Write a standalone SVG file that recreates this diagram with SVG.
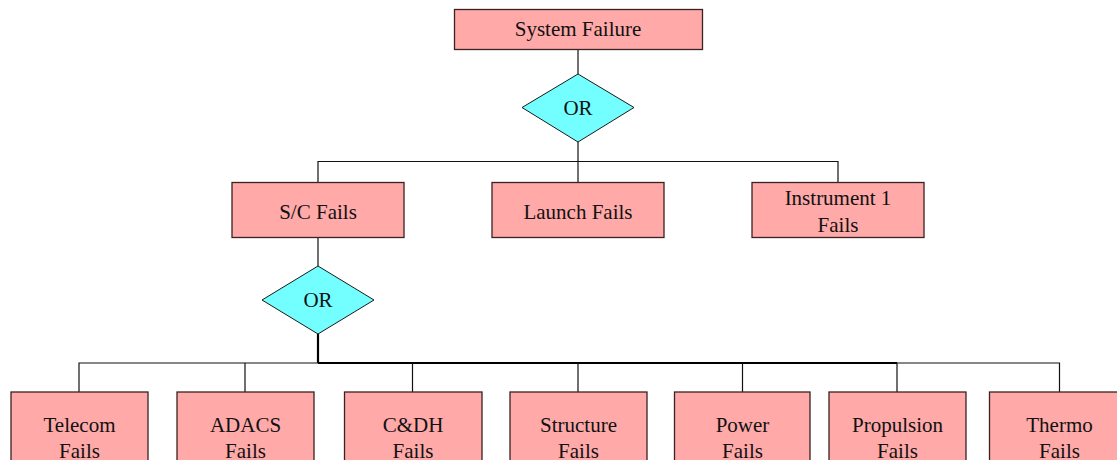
<svg xmlns="http://www.w3.org/2000/svg" width="1117" height="460" viewBox="0 0 1117 460">
<style>
.box{fill:#FFA9A9;stroke:#3a2222;stroke-width:1.3}
.gate{fill:#73FFFF;stroke:#1a1a1a;stroke-width:1}
.lbl{font-family:"Liberation Serif","Times New Roman",serif;font-size:21px;fill:#111;text-anchor:middle}
.c{fill:none;stroke:#111;stroke-width:1.2}
.ct{fill:none;stroke:#000;stroke-width:2.2}
</style>
<rect width="1117" height="460" fill="#fff"/>
<g id="connectors">
<path class="c" d="M578 49V74"/>
<path class="c" d="M578 142V182"/>
<path class="c" d="M318 182V161.5H838V182"/>
<path class="c" d="M318 237V266"/>
<path class="ct" d="M318 334V363"/>
<path class="c" d="M79 392V363H1059.5V392"/>
<path class="ct" d="M318 363H897"/>
<path class="c" d="M245 363V392M412.5 363V392M578 363V392M742.5 363V392M897 363V392"/>
</g>
<g id="system-failure"><rect class="box" x="454.5" y="9.5" width="248" height="40"/><text class="lbl" x="578" y="36">System Failure</text></g>
<g id="or-top"><polygon class="gate" points="578,74 634,107.5 578,142 522,107.5"/><text class="lbl" x="578" y="114.5">OR</text></g>
<g id="sc-fails"><rect class="box" x="232" y="182.5" width="172" height="55"/><text class="lbl" x="318" y="218.5">S/C Fails</text></g>
<g id="launch-fails"><rect class="box" x="492" y="182.5" width="172" height="55"/><text class="lbl" x="578" y="219">Launch Fails</text></g>
<g id="instrument-fails"><rect class="box" x="752" y="182.5" width="172" height="55"/><text class="lbl" x="838" y="205">Instrument 1</text><text class="lbl" x="838" y="231.5">Fails</text></g>
<g id="or-sc"><polygon class="gate" points="318,266 374,300 318,334 262,300"/><text class="lbl" x="318" y="307">OR</text></g>
<g id="telecom"><rect class="box" x="11" y="392" width="137" height="80"/><text class="lbl" x="79.5" y="431.5">Telecom</text><text class="lbl" x="79.5" y="457.5">Fails</text></g>
<g id="adacs"><rect class="box" x="177" y="392" width="137" height="80"/><text class="lbl" x="245.5" y="431.5">ADACS</text><text class="lbl" x="245.5" y="457.5">Fails</text></g>
<g id="cdh"><rect class="box" x="344.5" y="392" width="137.5" height="80"/><text class="lbl" x="413" y="431.5">C&amp;DH</text><text class="lbl" x="413" y="457.5">Fails</text></g>
<g id="structure"><rect class="box" x="510" y="392" width="137" height="80"/><text class="lbl" x="578.5" y="431.5">Structure</text><text class="lbl" x="578.5" y="457.5">Fails</text></g>
<g id="power"><rect class="box" x="674.5" y="392" width="135.5" height="80"/><text class="lbl" x="742.5" y="431.5">Power</text><text class="lbl" x="742.5" y="457.5">Fails</text></g>
<g id="propulsion"><rect class="box" x="829" y="392" width="137" height="80"/><text class="lbl" x="897.5" y="431.5">Propulsion</text><text class="lbl" x="897.5" y="457.5">Fails</text></g>
<g id="thermo"><rect class="box" x="989.5" y="392" width="137" height="80"/><text class="lbl" x="1059.5" y="431.5">Thermo</text><text class="lbl" x="1059.5" y="457.5">Fails</text></g>
</svg>
